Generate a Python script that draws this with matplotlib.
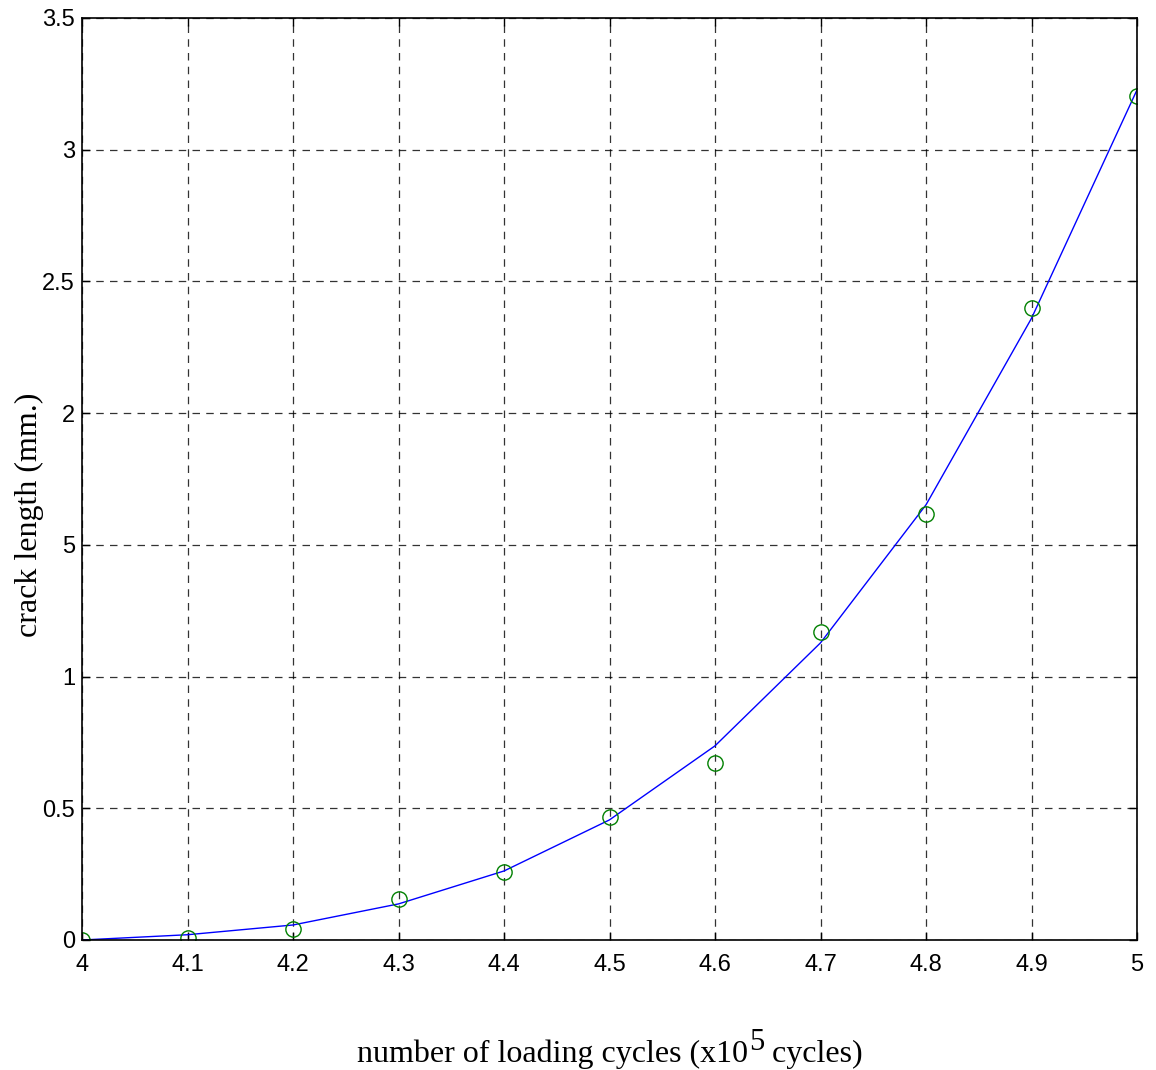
import numpy as np
import matplotlib.pyplot as plt

# measured crack length (markers) and fitted curve (line)
cycles = [4.0, 4.1, 4.2, 4.3, 4.4, 4.5, 4.6, 4.7, 4.8, 4.9, 5.0]
crack_measured = [0.0, 0.008, 0.04, 0.155, 0.26, 0.467, 0.672, 1.17, 1.617, 2.40, 3.205]
crack_fit = [0.0, 0.02, 0.057, 0.137, 0.262, 0.456, 0.737, 1.128, 1.652, 2.36, 3.227]

yticks = [0, 0.5, 1, 1.5, 2, 2.5, 3, 3.5]
ytick_labels = ['0', '0.5', '1', '5', '2', '2.5', '3', '3.5']
xticks = [4.0, 4.1, 4.2, 4.3, 4.4, 4.5, 4.6, 4.7, 4.8, 4.9, 5.0]
xtick_labels = ['4', '4.1', '4.2', '4.3', '4.4', '4.5', '4.6', '4.7', '4.8', '4.9', '5']

W, H = 1156, 1070
fig = plt.figure(figsize=(W / 100, H / 100), dpi=100)
ax = fig.add_axes([82 / W, 1 - 940 / H, (1137 - 82) / W, (940 - 18) / H])

ax.plot(cycles, crack_fit, color='blue', linewidth=1, zorder=3)
ax.plot(cycles, crack_measured, linestyle='none', marker='o', markersize=11,
        markerfacecolor='none', markeredgecolor=(0, 0.5, 0), markeredgewidth=1, zorder=4)

ax.set_xlim(4, 5)
ax.set_ylim(0, 3.5)
ax.set_xticks(xticks)
ax.set_xticklabels(xtick_labels, family='Liberation Sans', fontsize=17)
ax.set_yticks(yticks)
ax.set_yticklabels(ytick_labels, family='Liberation Sans', fontsize=17)
ax.tick_params(direction='in', top=True, right=True, length=6, width=1)
ax.tick_params(axis='x', pad=10)
ax.tick_params(axis='y', pad=5)

ax.grid(True, color='black', linestyle=(0, (6, 5)), linewidth=0.9, alpha=0.8)
for s in ax.spines.values():
    s.set_linewidth(1.2)
    s.set_zorder(5)

# axis labels (serif), placed like the original
fig.text(29 / W, 1 - 515 / H, 'crack length (mm.)', family='Liberation Serif',
         fontsize=23, rotation=90, ha='center', va='center')
t1 = fig.text(357 / W, 1 - 1062 / H, 'number of loading cycles (x10',
              family='Liberation Serif', fontsize=23, ha='left', va='baseline')
sup = plt.annotate('5', xy=(1, 0), xycoords=t1, xytext=(0.5, 9), textcoords='offset points',
                   family='Liberation Serif', fontsize=22, ha='left', va='bottom')
plt.annotate(' cycles)', xy=(1, 0), xycoords=(sup, t1), xytext=(0, 0), textcoords='offset points',
             family='Liberation Serif', fontsize=23, ha='left', va='bottom')

fig.savefig('out.png', dpi=100)
